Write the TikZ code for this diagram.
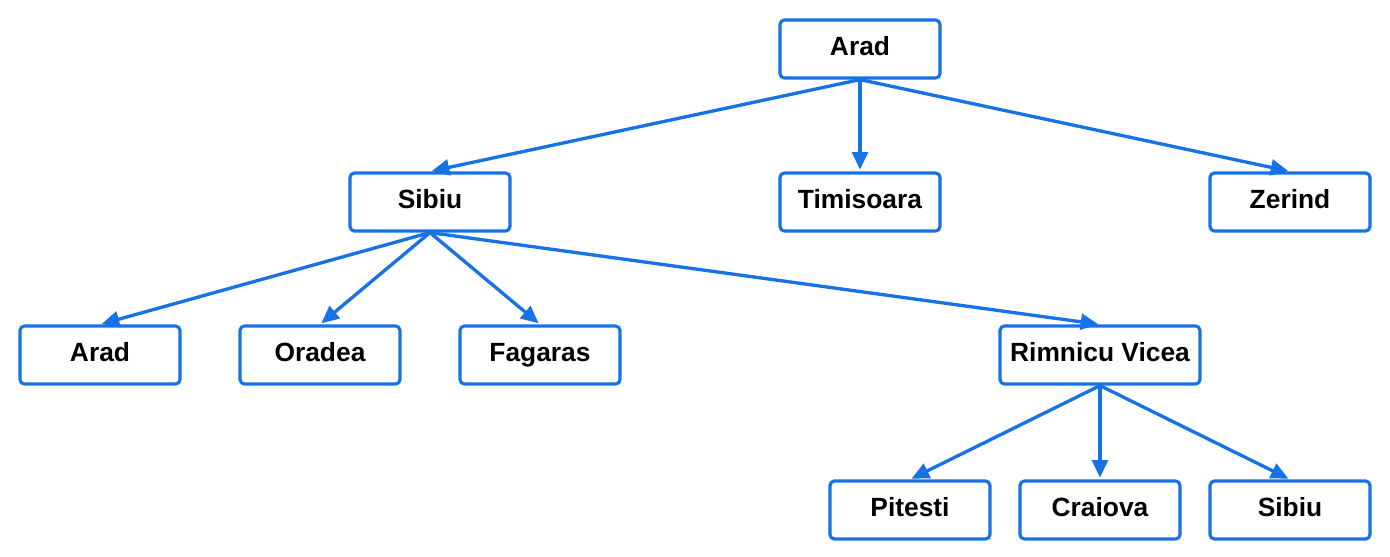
\documentclass[tikz,border=0pt]{standalone}
\usepackage{fontspec}
\setmainfont{Liberation Sans}
\usetikzlibrary{arrows.meta}
\definecolor{treeblue}{RGB}{23,114,230}
\tikzset{
	city/.style={draw=treeblue, line width=1.8pt, rounded corners=2.5pt, fill=white,
		minimum width=3.2cm, minimum height=1.16cm, inner sep=0pt,
		text height=0.72em, text depth=0.03em,
		font=\fontsize{15}{18}\selectfont\bfseries},
	wide/.style={minimum width=4cm},
	edge/.style={draw=treeblue, line width=1.9pt, -{Triangle[length=10pt,width=9pt]}, shorten >=1pt}
}

\begin{document}
\begin{tikzpicture}[x=0.02cm, y=-0.02cm]
			%%%%% START %%%%%
			\useasboundingbox (0, 0) rectangle (1390, 556);
			
			\node[city] (arad) at (860, 49) {Arad};
			
			\node[city] (sibiu) at (430, 202) {Sibiu};
			\node[city] (timisoara) at (860, 202) {Timisoara};
			\node[city] (zerind) at (1290, 202) {Zerind};
			
			\node[city] (arad2) at (100, 355) {Arad};
			\node[city] (oradea) at (320, 355) {Oradea};
			\node[city] (fagaras) at (540, 355) {Fagaras};
			\node[city, wide] (rimnicu) at (1100, 355) {Rimnicu Vicea};
			
			\node[city] (pitesti) at (910, 510) {Pitesti};
			\node[city] (craiova) at (1100, 510) {Craiova};
			\node[city] (sibiu2) at (1290, 510) {Sibiu};
			
			\foreach \kid in {sibiu, timisoara, zerind}
				\draw[edge] (arad.south) -- (\kid.north);
			\foreach \kid in {arad2, oradea, fagaras, rimnicu}
				\draw[edge] (sibiu.south) -- (\kid.north);
			\foreach \kid in {pitesti, craiova, sibiu2}
				\draw[edge] (rimnicu.south) -- (\kid.north);
			
			%%%%% END %%%%%
\end{tikzpicture}
\end{document}
